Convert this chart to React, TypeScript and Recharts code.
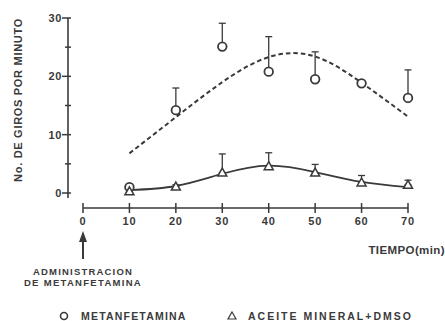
import { ComposedChart, Line, XAxis, YAxis, ErrorBar } from "recharts";

// tiempo (min) y giros por minuto
const tiempo = [10, 20, 30, 40, 50, 60, 70];
const metanfetamina = [1.0, 14.2, 25.1, 20.8, 19.5, 18.8, 16.3];
const metanfetaminaEE = [0.5, 3.8, 4.0, 6.0, 4.7, 0.4, 4.8];
const metanfetaminaAjuste = [6.8, 13.0, 19.0, 23.3, 23.4, 18.9, 13.1];
const aceite = [0.3, 1.1, 3.5, 4.6, 3.5, 1.8, 1.4];
const aceiteEE = [0.3, 0.3, 3.2, 2.3, 1.4, 1.2, 0.8];
const aceiteAjuste = [0.5, 1.2, 3.3, 4.7, 3.6, 1.9, 1.0];

const xTicks = [0, 10, 20, 30, 40, 50, 60, 70];
const yTicks = [0, 5, 10, 15, 20, 25, 30];
const Y_MIN = -2.57;

const INK = "#3a3a3a";
const FONT = "'Liberation Sans', Arial, sans-serif";

const data = tiempo.map((t, i) => ({
  t,
  met: metanfetamina[i],
  metErr: [0, metanfetaminaEE[i]],
  metFit: metanfetaminaAjuste[i],
  ace: aceite[i],
  aceErr: [0, aceiteEE[i]],
  aceFit: aceiteAjuste[i],
}));

const Circulo = (p: any) => {
  if (p.cx == null || p.cy == null) return <g key={`c${p.index}`} />;
  return (
    <circle key={`c${p.index}`} cx={p.cx} cy={p.cy} r={4.3} fill="#fff" stroke={INK} strokeWidth={1.8} />
  );
};

const Triangulo = (p: any) => {
  if (p.cx == null || p.cy == null) return <g key={`t${p.index}`} />;
  const { cx, cy } = p;
  return (
    <path
      key={`t${p.index}`}
      d={`M${cx},${cy - 4.5} L${cx + 4.5},${cy + 3.5} L${cx - 4.5},${cy + 3.5} Z`}
      fill="#fff"
      stroke={INK}
      strokeWidth={1.5}
    />
  );
};

const XTick = (p: any) => {
  const { x, y, payload } = p;
  return (
    <g>
      <line x1={x} y1={y - 5} x2={x} y2={y + 5} stroke={INK} strokeWidth={1.5} />
      <text x={x} y={y + 17} textAnchor="middle" fontSize={11} letterSpacing={0.8} fontWeight="bold" fill={INK} fontFamily={FONT}>
        {payload.value}
      </text>
    </g>
  );
};

const YTick = (p: any) => {
  const { x, y, payload } = p;
  const major = payload.value % 10 === 0;
  return (
    <g>
      <line x1={major ? x - 6 : x - 3} y1={y} x2={x + 3} y2={y} stroke={INK} strokeWidth={1.5} />
      {major && (
        <text x={x - 6} y={y + 4} textAnchor="end" fontSize={11} letterSpacing={0.6} fontWeight="bold" fill={INK} fontFamily={FONT}>
          {payload.value}
        </text>
      )}
    </g>
  );
};

export default function App() {
  return (
    <div style={{ position: "absolute", left: 0, top: 0, width: 445, height: 321, background: "#fff" }}>
      <ComposedChart width={445} height={321} data={data} margin={{ top: 18, right: 37, bottom: 93, left: 0 }}>
        <XAxis
          dataKey="t"
          type="number"
          domain={[0, 70]}
          ticks={xTicks}
          interval={0}
          padding={{ left: 15, right: 0 }}
          height={20}
          tickSize={0}
          tickMargin={0}
          tickLine={false}
          axisLine={{ stroke: INK, strokeWidth: 1.6, strokeDasharray: "0 15 325 40" }}
          tick={<XTick />}
        />
        <YAxis
          type="number"
          domain={[Y_MIN, 30]}
          ticks={yTicks}
          interval={0}
          allowDataOverflow
          width={68}
          tickSize={0}
          tickMargin={0}
          tickLine={false}
          axisLine={{ stroke: INK, strokeWidth: 1.6, strokeDasharray: "180 40" }}
          tick={<YTick />}
        />
        <Line
          type="natural"
          dataKey="metFit"
          stroke={INK}
          strokeWidth={2}
          strokeDasharray="4.5 3"
          dot={false}
          activeDot={false}
          isAnimationActive={false}
        />
        <Line
          type="natural"
          dataKey="aceFit"
          stroke={INK}
          strokeWidth={1.8}
          dot={false}
          activeDot={false}
          isAnimationActive={false}
        />
        <Line dataKey="met" stroke="none" dot={Circulo} activeDot={false} isAnimationActive={false}>
          <ErrorBar dataKey="metErr" direction="y" width={3.5} stroke={INK} strokeWidth={1.3} />
        </Line>
        <Line dataKey="ace" stroke="none" dot={Triangulo} activeDot={false} isAnimationActive={false}>
          <ErrorBar dataKey="aceErr" direction="y" width={3.5} stroke={INK} strokeWidth={1.3} />
        </Line>
      </ComposedChart>
      <svg
        width={445}
        height={321}
        style={{ position: "absolute", left: 0, top: 0, pointerEvents: "none" }}
        fontFamily={FONT}
        fontWeight="bold"
        fill={INK}
      >
        <text x={22} y={100} fontSize={11} letterSpacing={0.7} textAnchor="middle" transform="rotate(-90 22 100)">
          No. DE GIROS POR MINUTO
        </text>
        <text x={445} y={254} fontSize={11.5} letterSpacing={0.4} textAnchor="end">
          TIEMPO(min)
        </text>
        <line x1={83} y1={238} x2={83} y2={259} stroke={INK} strokeWidth={2} />
        <path d="M83,231 L87,242 L79,242 Z" fill={INK} />
        <text x={83} y={274.5} fontSize={9.5} letterSpacing={1.2} textAnchor="middle">
          ADMINISTRACION
        </text>
        <text x={83} y={286} fontSize={9.5} letterSpacing={1.3} textAnchor="middle">
          DE METANFETAMINA
        </text>
        <circle cx={64} cy={316} r={3.5} fill="none" stroke={INK} strokeWidth={1.6} />
        <text x={81} y={320} fontSize={10.5} letterSpacing={1.2}>
          METANFETAMINA
        </text>
        <path d="M232,312 L236,319 L228,319 Z" fill="none" stroke={INK} strokeWidth={1.2} />
        <text x={248} y={320} fontSize={10.5} letterSpacing={2}>
          ACEITE MINERAL+DMSO
        </text>
      </svg>
    </div>
  );
}
